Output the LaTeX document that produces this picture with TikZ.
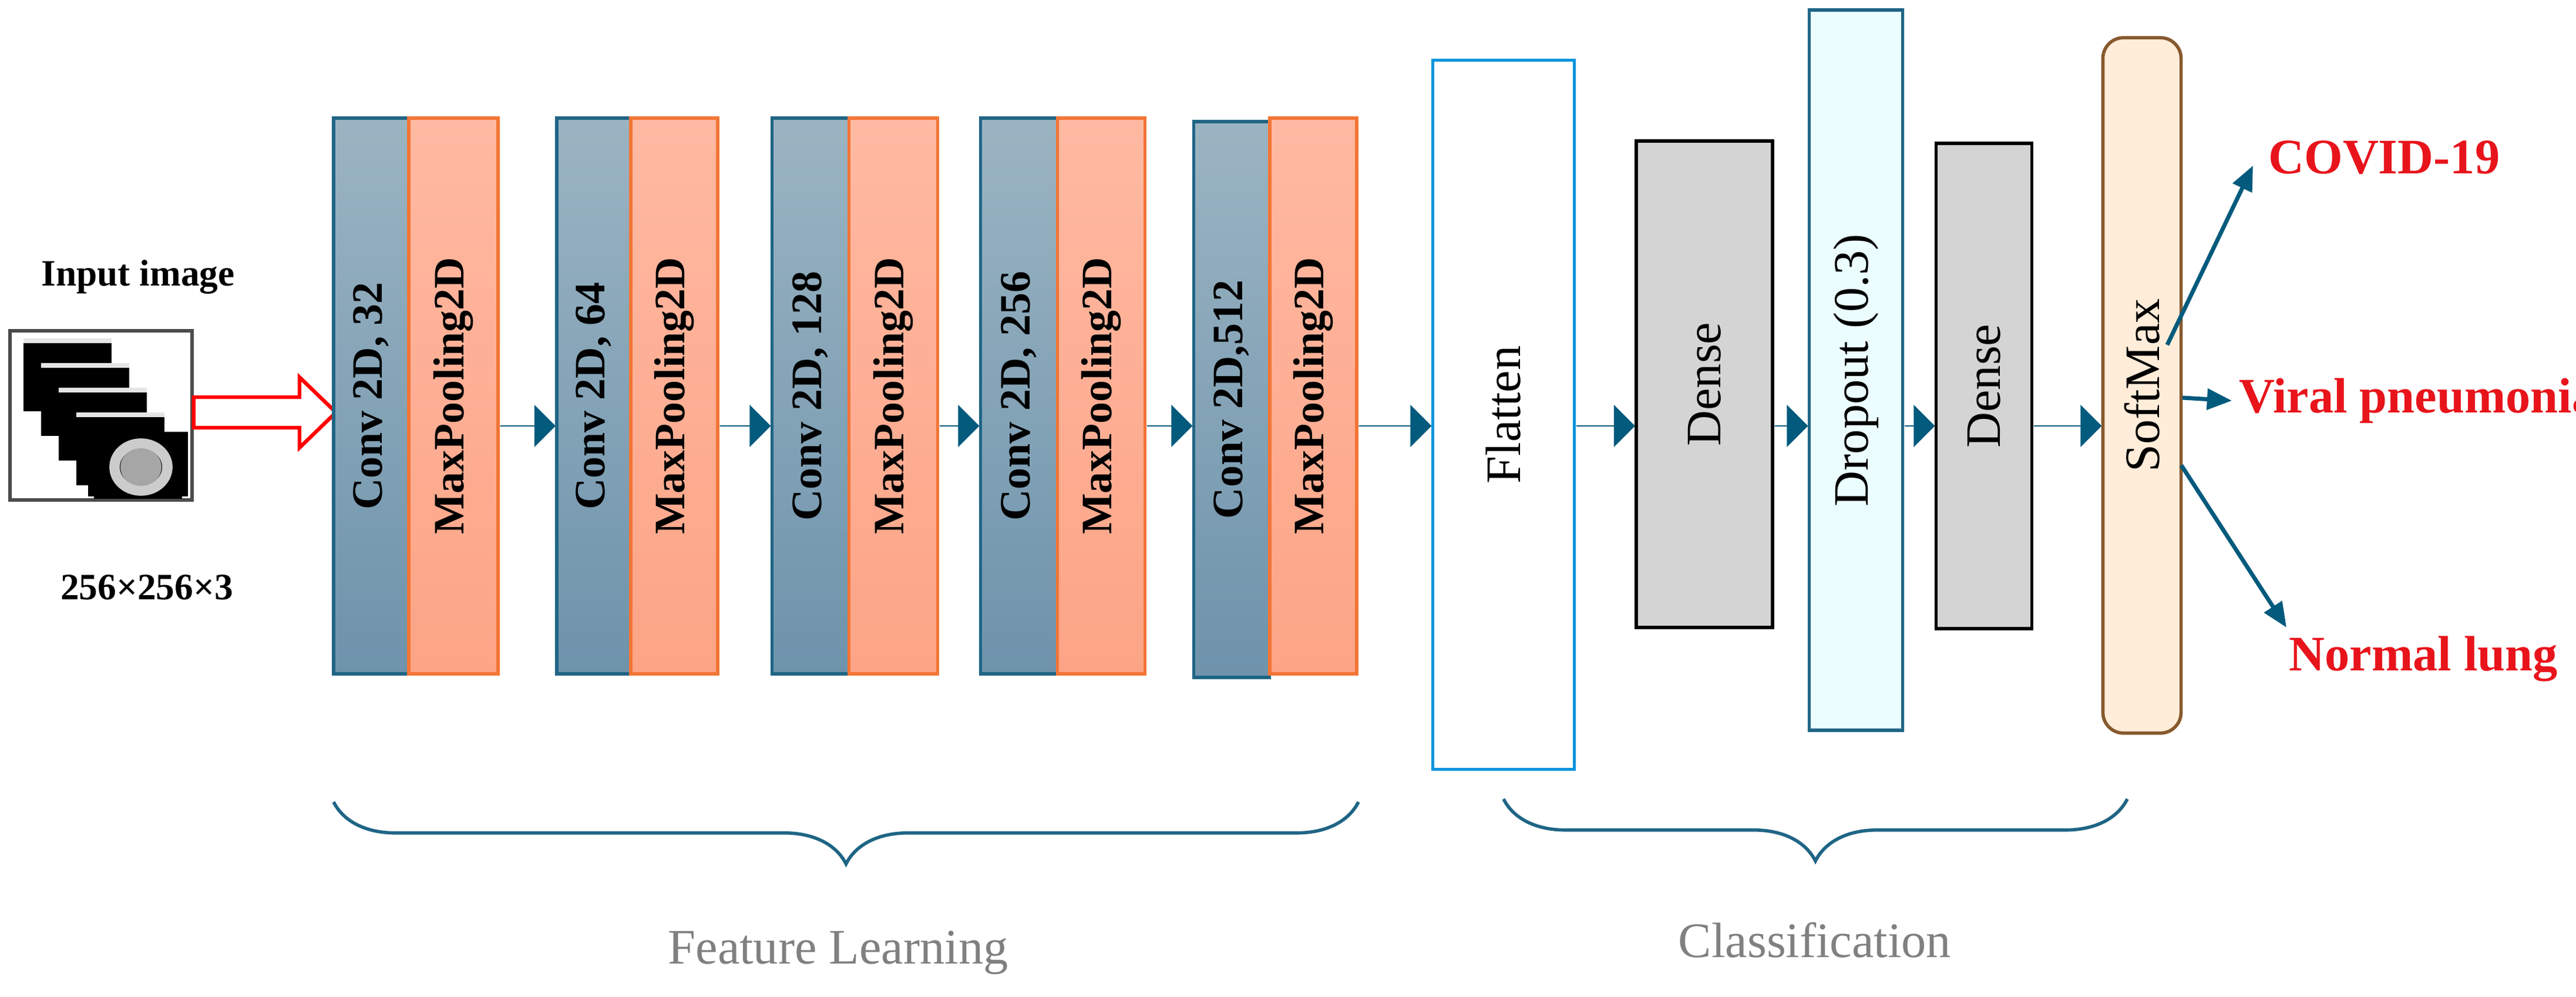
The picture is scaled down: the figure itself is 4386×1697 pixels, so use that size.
\documentclass[tikz,border=0pt]{standalone}
\usepackage{fontspec}
\setmainfont{Liberation Serif}
\usetikzlibrary{arrows.meta,decorations.pathreplacing,shapes.arrows,calc}
\definecolor{convB}{HTML}{1F6585}
\definecolor{convT}{HTML}{9BB4C2}
\definecolor{convBot}{HTML}{6E93AC}
\definecolor{poolB}{HTML}{F37535}
\definecolor{poolT}{HTML}{FFB9A2}
\definecolor{poolBot}{HTML}{FCA486}
\definecolor{arr}{HTML}{025A7C}
\definecolor{outred}{HTML}{E8141B}
\begin{document}
\begin{tikzpicture}[x=0.01cm,y=-0.01cm,
  blk/.style={draw,line width=1.6pt,inner sep=0pt},
  conv/.style={blk,draw=convB,top color=convT,bottom color=convBot},
  pool/.style={blk,draw=poolB,top color=poolT,bottom color=poolBot},
  vt/.style={rotate=90,font=\bfseries\fontsize{21}{24}\selectfont},
  rt/.style={rotate=90,font=\fontsize{24}{28}\selectfont},
  fat/.style={draw=none,fill=arr,single arrow,single arrow head extend=9pt,minimum height=1.25cm,inner sep=0pt,minimum width=0.72cm},
  outarr/.style={draw=arr,line width=2pt,-{Triangle[length=12pt,width=10pt]}},
  lab/.style={font=\bfseries\fontsize{24}{28}\selectfont,text=outred},
  brace/.style={draw=convB,line width=1.6pt,decorate,decoration={brace,amplitude=30pt,mirror}},
  captxt/.style={font=\fontsize{24}{28}\selectfont,text=gray}]
\useasboundingbox (0,0) rectangle (4386,1697);
% input
\node[font=\bfseries\fontsize{18}{21}\selectfont] (inlab) at (235,472) {Input image};
\node[font=\bfseries\fontsize{18}{21}\selectfont] (insize) at (250,1000) {256×256×3};
\node[draw=black!70,line width=1.5pt,minimum width=3.1cm,minimum height=2.88cm,inner sep=0pt] (img) at (172,707) {};
\begin{scope}
\clip (20,566) rectangle (326,848);
\foreach \i in {0,1,2,3,4}{
  \fill[black] (40+\i*30,580+\i*42) rectangle (190+\i*30,700+\i*42);
  \draw[white!80!gray,line width=2pt] (40+\i*30,580+\i*42) -- (190+\i*30,580+\i*42);
}
\fill[black] (150,735) rectangle (320,845);
\draw[gray!40,line width=5pt] (240,795) ellipse (45 and 40);
\fill[gray!70] (240,795) ellipse (35 and 32);
\end{scope}
\draw[draw=red,line width=1.8pt,fill=white] (img.east|-0,676) -- (510,676) -- (510,642) -- (572,702) -- (510,762) -- (510,728) -- (img.east|-0,728) -- cycle;
% feature blocks
\node[conv,minimum width=1.28cm,minimum height=9.46cm] (c1) at (632,674) {};
\node[vt] at (c1) {Conv 2D, 32};
\node[pool,minimum width=1.52cm,minimum height=9.46cm] (p1) at (772,674) {};
\node[vt] at (p1) {MaxPooling2D};
\node[conv,minimum width=1.26cm,minimum height=9.46cm] (c2) at (1011,674) {};
\node[vt] at (c2) {Conv 2D, 64};
\node[pool,minimum width=1.48cm,minimum height=9.46cm] (p2) at (1148,674) {};
\node[vt] at (p2) {MaxPooling2D};
\node[conv,minimum width=1.31cm,minimum height=9.46cm] (c3) at (1380,674) {};
\node[vt] at (c3) {Conv 2D, 128};
\node[pool,minimum width=1.51cm,minimum height=9.46cm] (p3) at (1521,674) {};
\node[vt] at (p3) {MaxPooling2D};
\node[conv,minimum width=1.31cm,minimum height=9.46cm] (c4) at (1735,674) {};
\node[vt] at (c4) {Conv 2D, 256};
\node[pool,minimum width=1.49cm,minimum height=9.46cm] (p4) at (1875,674) {};
\node[vt] at (p4) {MaxPooling2D};
\node[conv,minimum width=1.29cm,minimum height=9.45cm] (c5) at (2097,680) {};
\node[vt] at (c5) {Conv 2D,512};
\node[pool,minimum width=1.48cm,minimum height=9.46cm] (p5) at (2236,674) {};
\node[vt] at (p5) {MaxPooling2D};
% classification
\node[blk,draw=cyan!80!blue,fill=white,minimum width=2.41cm,minimum height=12.06cm] (fl) at (2560,706) {};
\node[rt] at (fl) {Flatten};
\node[blk,draw=black,fill=black!17,minimum width=2.32cm,minimum height=8.28cm] (d1) at (2902,654) {};
\node[rt] at (d1) {Dense};
\node[blk,draw=convB,fill=blue!10!cyan!8,minimum width=1.59cm,minimum height=12.25cm] (dr) at (3160,630) {};
\node[rt] at (dr) {Dropout (0.3)};
\node[blk,draw=black,fill=black!17,minimum width=1.63cm,minimum height=8.25cm] (d2) at (3378,657) {};
\node[rt] at (d2) {Dense};
\node[blk,draw=brown!70!black,fill=orange!15,rounded corners=10pt,minimum width=1.33cm,minimum height=11.83cm] (sm) at (3647,656) {};
\node[rt] at (sm) {SoftMax};
% fat arrows
\foreach \a/\b in {p1/c2,p2/c3,p3/c4,p4/c5,p5/fl,fl/d1,d1/dr,dr/d2,d2/sm}{
  \path (\a.east|-0,725) coordinate (s) (\b.west|-0,725) coordinate (t);
  \path let \p1=($(t)-(s)$) in node[fat,minimum height=\x1,anchor=west] at (s) {};
}
% outputs
\node[lab,anchor=west] (o1) at (3850,268) {COVID-19};
\node[lab,anchor=west] (o2) at (3800,682) {Viral pneumonia};
\node[lab,anchor=west] (o3) at (3885,1122) {Normal lung};
\coordinate (s1) at (3690,587);
\coordinate (s2) at (3716,677);
\coordinate (s3) at (3714,792);
\draw[outarr] (s1) -- (3836,282);
\draw[outarr] (s2) -- (o2.west);
\draw[outarr] (s3) -- (3893,1068);
% braces
\draw[brace] (568,1365) -- (2313,1365);
\node[captxt] (fl2) at (1427,1622) {Feature Learning};
\draw[brace] (2560,1360) -- (3622,1360);
\node[captxt] (cl) at (3090,1600) {Classification};
\end{tikzpicture}
\end{document}
